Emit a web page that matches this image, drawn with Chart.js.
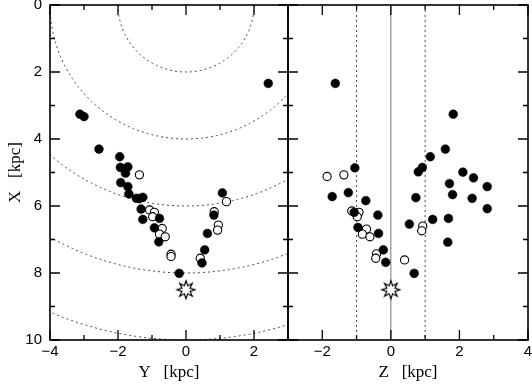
<!DOCTYPE html>
<html lang="en">
<head>
  <meta charset="UTF-8">
  <title>X-Y and X-Z positions</title>
  <script src="https://cdn.jsdelivr.net/npm/chart.js@4.4.1/dist/chart.umd.min.js"></script>
  <style>
    html, body { margin: 0; padding: 0; background: #fff; }
    body { width: 532px; height: 385px; position: relative; overflow: hidden; }
    #leftWrap { position: absolute; left: 0; top: 0; width: 296px; height: 385px; }
    #rightWrap { position: absolute; left: 280px; top: 0; width: 252px; height: 385px; }
  </style>
</head>
<body>
  <div id="leftWrap"><canvas id="leftChart" width="296" height="385"></canvas></div>
  <div id="rightWrap"><canvas id="rightChart" width="252" height="385"></canvas></div>

  <script>
    // Left panel: Y vs X
    const leftFilledY = [2.42, -3.12, -3.00, -2.56, -1.95, -1.93, -1.71, -1.78, -1.92, -1.71, -1.68, -1.46, -1.37, -1.27, -1.32, -1.27, -0.78, -0.93, -0.80, 1.07, 0.82, 0.63, 0.55, 0.47, -0.20];
    const leftFilledX = [2.34, 3.26, 3.33, 4.30, 4.53, 4.85, 4.83, 5.02, 5.30, 5.42, 5.64, 5.77, 5.78, 5.74, 6.09, 6.40, 6.37, 6.65, 7.07, 5.61, 6.27, 6.82, 7.31, 7.70, 8.01];
    const leftOpenY = [-1.37, -1.07, -0.93, -0.98, -0.70, -0.78, -0.61, -0.44, -0.44, 0.42, 0.95, 0.93, 1.19, 0.83];
    const leftOpenX = [5.07, 6.12, 6.19, 6.32, 6.67, 6.84, 6.92, 7.44, 7.51, 7.56, 6.57, 6.72, 5.87, 6.17];

    // Right panel: Z vs X
    const rightFilledZ = [-1.62, 1.82, 1.59, 1.15, 0.92, 0.80, 2.10, 2.41, 2.81, 1.71, -1.05, -1.71, -1.24, -0.73, 0.73, 1.80, 2.37, 2.81, -1.07, -0.38, 0.54, 1.22, 1.68, 1.66, -0.96, -0.36, -0.22, -0.15, 0.68];
    const rightFilledX = [2.34, 3.26, 4.30, 4.53, 4.85, 4.98, 4.99, 5.16, 5.42, 5.33, 4.86, 5.72, 5.60, 5.84, 5.75, 5.66, 5.77, 6.08, 6.19, 6.27, 6.54, 6.40, 6.37, 7.08, 6.64, 6.82, 7.31, 7.68, 8.01];
    const rightOpenZ = [-1.86, -1.37, -1.14, -0.93, -0.98, -0.71, -0.83, -0.61, -0.42, -0.44, 0.40, 0.93, 0.90];
    const rightOpenX = [5.12, 5.07, 6.15, 6.19, 6.32, 6.69, 6.84, 6.92, 7.43, 7.56, 7.61, 6.60, 6.74];

    // Sun position (star)
    const sunY = [0];
    const sunZ = [0];
    const sunX = [8.5];

    // guides
    const circleRadii = [2, 4, 6, 8, 10];
    const dottedZ = [-1, 1];
    const solidZ = [0];

    const tickFont = { family: 'Liberation Sans', size: 15 };
    const titleFont = { family: 'Liberation Serif', size: 17 };

    function fmt(v) {
      if (v % 2 !== 0) return '';
      return v < 0 ? '\u2212' + Math.abs(v) : String(v);
    }

    function pairs(xs, ys) {
      return xs.map((v, i) => ({ x: v, y: ys[i] }));
    }

    function makeStar() {
      const c = document.createElement('canvas');
      c.width = 22; c.height = 22;
      const g = c.getContext('2d');
      const n = 8, ro = 9, ri = 4.4;
      g.beginPath();
      for (let i = 0; i < 2 * n; i++) {
        const r = i % 2 ? ri : ro;
        const a = -Math.PI / 2 + i * Math.PI / n;
        const px = 11 + r * Math.cos(a), py = 11 + r * Math.sin(a);
        if (i === 0) g.moveTo(px, py); else g.lineTo(px, py);
      }
      g.closePath();
      g.fillStyle = '#fff';
      g.fill();
      g.lineWidth = 1.2;
      g.strokeStyle = '#000';
      g.stroke();
      return c;
    }
    const starImg = makeStar();

    // dotted circles / vertical guide lines
    const guides = {
      id: 'guides',
      beforeDatasetsDraw(chart, args, opts) {
        const { ctx, chartArea: a, scales: { x, y } } = chart;
        ctx.save();
        ctx.beginPath();
        ctx.rect(a.left, a.top, a.width, a.height);
        ctx.clip();
        ctx.strokeStyle = '#444';
        ctx.lineWidth = 1;
        ctx.setLineDash([2, 3]);
        const cx = x.getPixelForValue(0), cy = y.getPixelForValue(0);
        (opts.circles || []).forEach(r => {
          const rx = Math.abs(x.getPixelForValue(r) - cx);
          const ry = Math.abs(y.getPixelForValue(r) - cy);
          ctx.beginPath();
          ctx.ellipse(cx, cy, rx, ry, 0, 0, Math.PI * 2);
          ctx.stroke();
        });
        (opts.dotted || []).forEach(v => {
          const px = x.getPixelForValue(v);
          ctx.beginPath();
          ctx.moveTo(px, a.top);
          ctx.lineTo(px, a.bottom);
          ctx.stroke();
        });
        ctx.setLineDash([]);
        ctx.strokeStyle = '#777';
        (opts.solid || []).forEach(v => {
          const px = x.getPixelForValue(v);
          ctx.beginPath();
          ctx.moveTo(px, a.top);
          ctx.lineTo(px, a.bottom);
          ctx.stroke();
        });
        ctx.restore();
      }
    };

    // box frame with inward ticks on all four sides
    const frameTicks = {
      id: 'frameTicks',
      afterDatasetsDraw(chart) {
        const { ctx, chartArea: a, scales: { x, y } } = chart;
        ctx.save();
        ctx.strokeStyle = '#000';
        ctx.lineWidth = 1.3;
        ctx.beginPath();
        for (let v = Math.ceil(x.min); v <= x.max; v++) {
          const px = x.getPixelForValue(v);
          const len = v % 2 === 0 ? 10 : 5;
          ctx.moveTo(px, a.bottom); ctx.lineTo(px, a.bottom - len);
          ctx.moveTo(px, a.top); ctx.lineTo(px, a.top + len);
        }
        for (let v = Math.ceil(y.min); v <= y.max; v++) {
          const py = y.getPixelForValue(v);
          const len = v % 2 === 0 ? 10 : 5;
          ctx.moveTo(a.left, py); ctx.lineTo(a.left + len, py);
          ctx.moveTo(a.right, py); ctx.lineTo(a.right - len, py);
        }
        ctx.stroke();
        ctx.lineWidth = 1.6;
        ctx.strokeRect(a.left, a.top, a.width, a.height);
        ctx.restore();
      }
    };

    function pointSets(filled, open, star) {
      return [
        {
          data: filled, pointRadius: 4.4, pointBackgroundColor: '#000',
          pointBorderColor: '#000', pointBorderWidth: 0.5
        },
        {
          data: open, pointRadius: 4.1, pointBackgroundColor: '#fff',
          pointBorderColor: '#000', pointBorderWidth: 1.1
        },
        {
          data: star, pointStyle: starImg, pointRadius: 9
        }
      ];
    }

    function noPad(s) {
      s.paddingLeft = 0; s.paddingRight = 0; s.paddingTop = 0; s.paddingBottom = 0;
    }

    function xScale(min, max, title) {
      return {
        type: 'linear', min: min, max: max,
        grid: { display: false, drawTicks: false },
        border: { display: false },
        ticks: {
          stepSize: 1, autoSkip: false, maxRotation: 0, padding: 3,
          color: '#000', font: tickFont, callback: fmt
        },
        title: { display: true, text: title, color: '#000', font: titleFont, padding: { top: 0, bottom: 2 } },
        afterFit(s) { s.height = 45; noPad(s); }
      };
    }

    Chart.defaults.animation = false;

    new Chart(document.getElementById('leftChart'), {
      type: 'scatter',
      data: { datasets: pointSets(pairs(leftFilledY, leftFilledX), pairs(leftOpenY, leftOpenX), pairs(sunY, sunX)) },
      options: {
        responsive: false,
        layout: { autoPadding: false, padding: { top: 5, right: 8, left: 0, bottom: 0 } },
        plugins: {
          legend: { display: false }, tooltip: { enabled: false },
          guides: { circles: circleRadii }
        },
        scales: {
          x: xScale(-4, 3, 'Y   [kpc]'),
          y: {
            type: 'linear', min: 0, max: 10, reverse: true,
            grid: { display: false, drawTicks: false },
            border: { display: false },
            ticks: { stepSize: 1, autoSkip: false, padding: 8, color: '#000', font: tickFont, callback: fmt },
            title: { display: true, text: 'X   [kpc]', color: '#000', font: titleFont, padding: { top: 5, bottom: 0 } },
            afterFit(s) { s.width = 50; noPad(s); }
          }
        }
      },
      plugins: [guides, frameTicks]
    });

    new Chart(document.getElementById('rightChart'), {
      type: 'scatter',
      data: { datasets: pointSets(pairs(rightFilledZ, rightFilledX), pairs(rightOpenZ, rightOpenX), pairs(sunZ, sunX)) },
      options: {
        responsive: false,
        layout: { autoPadding: false, padding: { top: 5, right: 4, left: 8, bottom: 0 } },
        plugins: {
          legend: { display: false }, tooltip: { enabled: false },
          guides: { dotted: dottedZ, solid: solidZ }
        },
        scales: {
          x: xScale(-3, 4, 'Z   [kpc]'),
          y: {
            type: 'linear', min: 0, max: 10, reverse: true, display: false
          }
        }
      },
      plugins: [guides, frameTicks]
    });
  </script>
</body>
</html>
